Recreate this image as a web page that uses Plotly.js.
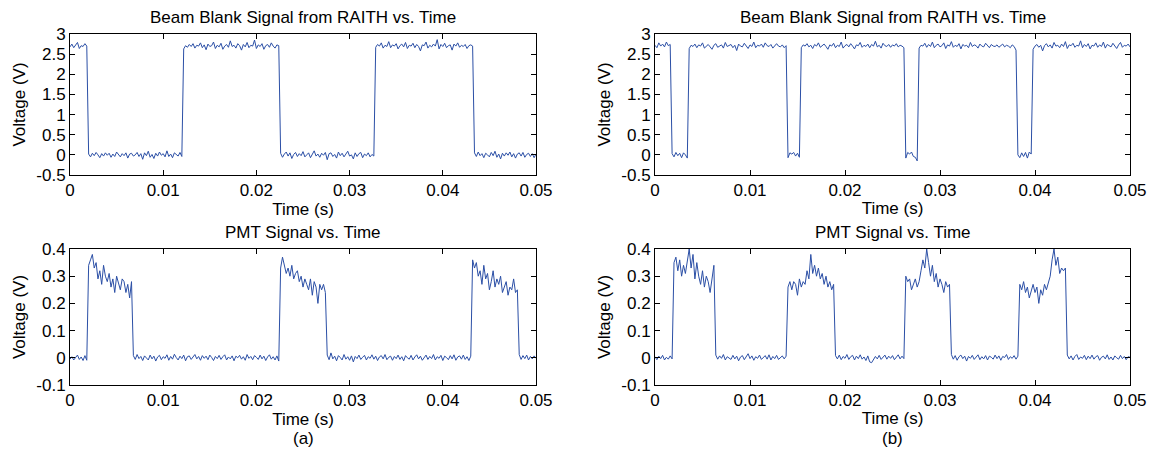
<!DOCTYPE html>
<html>
<head>
<meta charset="utf-8">
<script src="https://cdn.plot.ly/plotly-3.0.1.min.js"></script>
<style>html,body{margin:0;padding:0;background:#fff;}#chart{width:1153px;height:450px;}</style>
</head>
<body>
<div id="chart"></div>
<script>
// sampling of the recorded signals (s)
const t0 = 0;
const dt = 0.0002;

const xTickVals = [0, 0.01, 0.02, 0.03, 0.04, 0.05];
const xTickText = ['0', '0.01', '0.02', '0.03', '0.04', '0.05'];
const beamTickVals = [-0.5, 0, 0.5, 1, 1.5, 2, 2.5, 3];
const beamTickText = ['-0.5', '0', '0.5', '1', '1.5', '2', '2.5', '3'];
const pmtTickVals = [-0.1, 0, 0.1, 0.2, 0.3, 0.4];
const pmtTickText = ['-0.1', '0', '0.1', '0.2', '0.3', '0.4'];

const beamTitle = 'Beam Blank Signal from RAITH vs. Time';
const pmtTitle = 'PMT Signal vs. Time';
const xLabel = 'Time (s)';
const yLabel = 'Voltage (V)';
const panelLabels = ['(a)', '(b)'];

// (a) beam blank voltage (V)
const beamA = [
2.68,2.75,2.66,2.72,2.79,2.64,2.71,2.69,2.76,2.70,
0.02,-0.05,0.04,-0.02,0.06,0.00,-0.07,0.03,-0.03,0.05,
-0.01,0.04,-0.06,0.02,-0.04,0.07,0.01,-0.05,0.03,-0.02,
0.05,-0.08,0.02,0.04,-0.03,0.00,0.06,-0.04,0.03,-0.11,
0.05,-0.02,0.09,-0.06,0.01,-0.09,0.04,-0.03,0.07,-0.01,
0.03,-0.05,0.10,-0.04,0.02,-0.07,0.05,0.00,-0.03,0.06,
-0.04,
2.63,2.71,2.67,2.74,2.69,2.76,2.65,2.72,2.70,2.78,
2.66,2.73,2.61,2.75,2.69,2.71,2.80,2.64,2.72,2.68,
2.77,2.62,2.70,2.74,2.67,2.83,2.69,2.72,2.65,2.76,
2.71,2.60,2.74,2.68,2.79,2.66,2.72,2.70,2.85,2.64,
2.73,2.69,2.76,2.62,2.71,2.74,2.67,2.78,2.70,2.65,
2.73,2.71,
0.04,-0.06,0.02,0.07,-0.03,0.05,-0.09,0.01,0.06,-0.04,
0.03,-0.02,0.08,-0.05,0.00,0.05,-0.07,0.03,0.10,-0.03,
0.02,-0.06,0.04,-0.01,0.06,-0.12,0.03,0.05,-0.04,0.01,
-0.08,0.07,-0.02,0.04,-0.05,0.02,0.09,-0.03,0.00,-0.10,
0.05,-0.04,0.03,0.06,-0.07,0.02,-0.02,0.05,-0.05,0.01,
-0.03,
2.67,2.74,2.70,2.78,2.65,2.72,2.69,2.81,2.66,2.73,
2.70,2.76,2.63,2.71,2.75,2.68,2.79,2.64,2.72,2.70,
2.77,2.66,2.74,2.69,2.58,2.73,2.71,2.80,2.65,2.72,
2.68,2.75,2.70,2.86,2.63,2.74,2.69,2.77,2.66,2.71,
2.73,2.60,2.75,2.70,2.78,2.67,2.72,2.69,2.74,2.64,
2.71,2.73,2.70,
0.05,-0.04,0.07,-0.02,0.03,-0.07,0.04,0.00,-0.05,0.06,
-0.02,0.09,-0.06,0.02,-0.10,0.04,-0.03,0.05,-0.01,0.07,
-0.05,0.03,-0.08,0.02,0.05,-0.03,0.06,-0.06,0.01,0.04,
-0.04,0.03,-0.07,0.02
];

// (b) beam blank voltage (V)
const beamB = [
2.72,2.66,2.78,2.70,2.75,2.68,2.80,2.71,2.74,
0.03,-0.05,0.06,-0.02,0.04,-0.07,0.05,0.00,-0.08,
2.64,2.72,2.69,2.75,2.66,2.73,2.70,2.78,2.65,2.71,
2.74,2.68,2.62,2.72,2.76,2.67,2.70,2.73,2.65,2.79,
2.69,2.71,2.74,2.66,2.72,2.59,2.75,2.70,2.68,2.77,
2.71,2.64,2.73,2.69,2.80,2.66,2.72,2.70,2.75,2.67,
2.78,2.71,2.69,2.74,2.65,2.72,2.76,2.70,2.68,2.73,
2.66,2.71,
-0.07,0.05,0.02,0.06,-0.03,0.04,-0.06,
2.66,2.73,2.70,2.76,2.68,2.72,2.64,2.74,2.70,2.78,
2.67,2.71,2.75,2.69,2.62,2.73,2.70,2.77,2.66,2.72,
2.69,2.80,2.65,2.71,2.74,2.68,2.76,2.70,2.63,2.73,
2.71,2.79,2.67,2.72,2.69,2.75,2.66,2.74,2.70,2.82,
2.68,2.72,2.65,2.77,2.71,2.69,2.74,2.67,2.73,2.70,
2.76,2.68,2.72,2.70,2.66,
-0.08,0.06,0.02,0.07,-0.04,-0.06,-0.15,
2.65,2.72,2.70,2.77,2.67,2.74,2.69,2.80,2.66,2.72,
2.75,2.68,2.71,2.78,2.64,2.73,2.70,2.81,2.67,2.72,
2.69,2.76,2.63,2.74,2.70,2.72,2.66,2.79,2.69,2.73,
2.71,2.65,2.75,2.70,2.68,2.77,2.72,2.66,2.74,2.70,
2.69,2.73,2.67,2.71,2.75,2.68,2.72,2.70,2.66,2.73,
2.69,2.60,
0.00,-0.07,0.05,-0.04,0.06,-0.08,0.07,0.02,
2.62,2.70,2.74,2.67,2.72,2.58,2.71,2.76,2.68,2.73,
2.65,2.79,2.70,2.72,2.66,2.75,2.69,2.81,2.64,2.73,
2.71,2.77,2.67,2.72,2.70,2.83,2.66,2.74,2.69,2.76,
2.63,2.72,2.70,2.78,2.67,2.73,2.69,2.80,2.65,2.74,
2.71,2.68,2.77,2.70,2.64,2.73,2.79,2.67,2.72,2.70,
2.75,2.68
];

// (a) PMT voltage (V)
const pmtA = [
-0.005,0.004,-0.008,0.002,0.010,-0.006,0.003,-0.010,0.008,-0.009,
0.34,0.36,0.38,0.33,0.35,0.29,0.32,0.27,0.34,0.30,0.28,0.31,
0.26,0.29,0.24,0.30,0.27,0.25,0.29,0.28,0.24,0.27,0.22,0.28,
0.008,-0.006,0.012,-0.003,0.005,-0.010,0.007,0.000,-0.008,0.010,
-0.004,0.006,-0.012,0.003,0.009,-0.007,0.004,-0.002,0.011,-0.009,
0.005,-0.005,0.013,0.001,-0.008,0.006,-0.003,0.010,-0.011,0.004,
0.007,-0.006,0.002,0.012,-0.004,0.005,-0.009,0.008,-0.002,0.006,
-0.007,0.010,0.001,-0.010,0.005,-0.003,0.009,-0.006,0.004,0.011,
-0.008,0.003,-0.004,0.007,-0.011,0.006,0.000,0.009,-0.005,0.004,
-0.009,0.012,-0.002,0.005,-0.007,0.008,0.002,-0.006,0.010,-0.004,
0.006,-0.010,0.003,0.011,-0.005,0.004,-0.008,0.007,-0.012,
0.33,0.37,0.34,0.31,0.33,0.30,0.34,0.29,0.31,0.32,0.28,0.30,
0.26,0.29,0.27,0.25,0.29,0.23,0.28,0.26,0.20,0.27,0.25,0.27,0.24,
0.010,-0.007,0.018,-0.004,0.006,-0.011,0.008,0.001,-0.008,0.012,
-0.005,0.004,-0.009,0.007,-0.015,0.005,-0.003,0.010,-0.006,0.002,
0.009,-0.008,0.004,-0.002,0.011,-0.005,0.006,-0.010,0.003,0.008,
-0.004,0.012,-0.007,0.002,0.006,-0.009,0.005,-0.003,0.010,-0.006,
0.004,-0.011,0.008,0.000,-0.005,0.009,-0.008,0.003,0.011,-0.004,
0.006,-0.009,0.002,0.010,-0.006,0.005,-0.003,0.012,-0.008,0.004,
-0.002,0.009,-0.010,0.006,0.001,-0.007,0.008,-0.004,0.011,-0.009,
0.003,0.007,-0.005,0.010,-0.006,0.004,-0.010,0.006,
0.36,0.33,0.35,0.30,0.32,0.27,0.34,0.29,0.31,0.25,0.28,0.32,
0.26,0.29,0.27,0.30,0.24,0.26,0.28,0.23,0.26,0.25,0.29,0.24,0.25,
0.012,-0.006,0.008,-0.003,0.010,-0.008,0.005,-0.004,0.007,-0.002
];

// (b) PMT voltage (V)
const pmtB = [
0.004,-0.007,0.006,-0.003,0.009,-0.008,0.002,-0.005,0.007,-0.004,
0.35,0.37,0.32,0.36,0.30,0.34,0.31,0.36,0.40,0.33,0.38,
0.29,0.35,0.30,0.27,0.32,0.26,0.30,0.28,0.24,0.29,0.34,
0.010,-0.005,0.007,-0.002,0.012,-0.008,0.004,0.000,-0.006,0.009,
-0.004,0.006,-0.011,0.003,0.008,-0.007,0.005,0.015,-0.003,0.007,
-0.009,0.004,-0.002,0.010,-0.006,0.003,0.008,-0.005,0.011,-0.008,
0.005,-0.003,0.009,-0.006,0.002,0.007,-0.004,0.006,
0.26,0.28,0.25,0.28,0.27,0.23,0.29,0.26,0.28,0.27,0.32,0.29,
0.38,0.31,0.34,0.30,0.33,0.29,0.31,0.27,0.30,0.26,0.28,0.25,0.27,
0.008,-0.004,0.010,-0.007,0.005,-0.002,0.012,-0.006,0.004,0.009,
-0.008,0.006,-0.003,0.011,-0.005,0.003,-0.010,0.007,-0.015,-0.018,
-0.008,0.005,-0.004,0.009,-0.006,0.003,0.010,-0.005,0.006,-0.002,
0.008,-0.007,0.004,0.011,-0.004,0.006,-0.003,
0.30,0.28,0.29,0.25,0.27,0.29,0.26,0.28,0.32,0.36,0.33,0.40,
0.35,0.30,0.34,0.28,0.31,0.26,0.29,0.27,0.24,0.28,0.26,0.27,
0.012,-0.005,0.008,-0.009,0.004,0.010,-0.003,0.006,-0.012,0.005,
-0.002,0.009,-0.006,0.003,0.011,-0.007,0.004,-0.004,0.008,-0.008,
0.006,0.002,-0.005,0.010,-0.003,0.007,-0.009,0.005,0.001,0.012,
-0.006,0.004,-0.002,0.008,-0.005,0.006,
0.27,0.25,0.28,0.24,0.26,0.22,0.25,0.27,0.24,0.26,0.20,0.25,
0.23,0.27,0.25,0.28,0.30,0.36,0.40,0.34,0.37,0.31,0.33,0.32,0.33,
0.010,-0.004,0.007,-0.008,0.005,0.012,-0.006,0.003,-0.002,0.009,
-0.007,0.006,-0.003,0.010,-0.005,0.004,0.008,-0.009,0.002,0.006,
-0.004,0.011,-0.006,0.003,-0.008,0.007,0.000,-0.005,0.009,-0.003,
0.005,-0.007,0.004,0.002
];

const lineColor = '#2b4fa6';
const FONT = 'Liberation Sans, Arial, Helvetica, sans-serif';
const FS = 17;

function trace(y, xa, ya) {
  return {type: 'scatter', mode: 'lines', x0: t0, dx: dt, y: y,
    xaxis: xa, yaxis: ya, line: {color: lineColor, width: 1}, hoverinfo: 'x+y', showlegend: false};
}

const data = [
  trace(beamA, 'x', 'y'),
  trace(beamB, 'x2', 'y2'),
  trace(pmtA, 'x3', 'y3'),
  trace(pmtB, 'x4', 'y4')
];

const colL = [70 / 1153, 536 / 1153];
const colR = [655 / 1153, 1130 / 1153];
const rowT = [1 - 175 / 450, 1 - 34 / 450];
const rowB = [1 - 385 / 450, 1 - 249 / 450];

function xax(domain, anchor) {
  return {domain: domain, anchor: anchor, range: [0, 0.05], tickmode: 'array',
    tickvals: xTickVals, ticktext: xTickText, ticks: 'inside', ticklen: 5, tickcolor: '#000',
    showline: true, mirror: 'ticks', linecolor: '#000', linewidth: 1,
    showgrid: false, zeroline: false, tickfont: {family: FONT, size: FS, color: '#000'},
    title: {text: xLabel, font: {family: FONT, size: FS, color: '#000'}, standoff: 2}};
}
function yax(domain, anchor, range, vals, text) {
  return {domain: domain, anchor: anchor, range: range, tickmode: 'array',
    tickvals: vals, ticktext: text, ticks: 'inside', ticklen: 5, tickcolor: '#000',
    showline: true, mirror: 'ticks', linecolor: '#000', linewidth: 1,
    showgrid: false, zeroline: false, tickfont: {family: FONT, size: FS, color: '#000'},
    title: {text: yLabel, font: {family: FONT, size: FS, color: '#000'}, standoff: 6}};
}

const layout = {
  width: 1153, height: 450,
  margin: {l: 0, r: 0, t: 0, b: 0},
  paper_bgcolor: '#fff', plot_bgcolor: '#fff',
  font: {family: FONT, size: FS, color: '#000'},
  xaxis: xax(colL, 'y'),
  yaxis: yax(rowT, 'x', [-0.5, 3], beamTickVals, beamTickText),
  xaxis2: xax(colR, 'y2'),
  yaxis2: yax(rowT, 'x2', [-0.5, 3], beamTickVals, beamTickText),
  xaxis3: xax(colL, 'y3'),
  yaxis3: yax(rowB, 'x3', [-0.1, 0.4], pmtTickVals, pmtTickText),
  xaxis4: xax(colR, 'y4'),
  yaxis4: yax(rowB, 'x4', [-0.1, 0.4], pmtTickVals, pmtTickText),
  annotations: [
    {text: beamTitle, xref: 'paper', yref: 'paper', x: (colL[0] + colL[1]) / 2, y: 1 - 17 / 450, xanchor: 'center', yanchor: 'middle', showarrow: false},
    {text: beamTitle, xref: 'paper', yref: 'paper', x: (colR[0] + colR[1]) / 2, y: 1 - 17 / 450, xanchor: 'center', yanchor: 'middle', showarrow: false},
    {text: pmtTitle, xref: 'paper', yref: 'paper', x: (colL[0] + colL[1]) / 2, y: 1 - 232 / 450, xanchor: 'center', yanchor: 'middle', showarrow: false},
    {text: pmtTitle, xref: 'paper', yref: 'paper', x: (colR[0] + colR[1]) / 2, y: 1 - 232 / 450, xanchor: 'center', yanchor: 'middle', showarrow: false},
    {text: panelLabels[0], xref: 'paper', yref: 'paper', x: (colL[0] + colL[1]) / 2, y: 1 - 438 / 450, xanchor: 'center', yanchor: 'middle', showarrow: false},
    {text: panelLabels[1], xref: 'paper', yref: 'paper', x: (colR[0] + colR[1]) / 2, y: 1 - 438 / 450, xanchor: 'center', yanchor: 'middle', showarrow: false}
  ]
};

Plotly.newPlot('chart', data, layout, {staticPlot: true, displayModeBar: false});
</script>
</body>
</html>
